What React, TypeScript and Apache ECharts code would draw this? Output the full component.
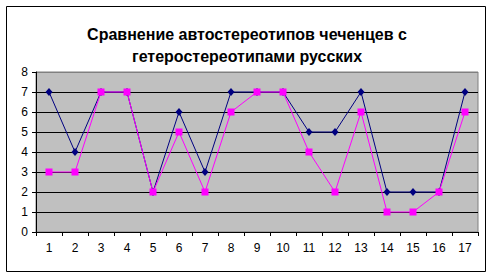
import React, { useEffect, useRef } from "react";
import * as echarts from "echarts";

const categories = ["1","2","3","4","5","6","7","8","9","10","11","12","13","14","15","16","17"];
const autoStereotypes = [7, 4, 7, 7, 2, 6, 3, 7, 7, 7, 5, 5, 7, 2, 2, 2, 7];
const heteroStereotypes = [3, 3, 7, 7, 2, 5, 2, 6, 7, 7, 4, 2, 6, 1, 1, 2, 6];
const titleText = "Сравнение автостереотипов чеченцев с\nгетеростереотипами русских";

const FONT = "'Liberation Sans', Arial, sans-serif";

export default function App() {
  const ref = useRef<HTMLDivElement>(null);
  useEffect(() => {
    if (!ref.current) return;
    const chart = echarts.init(ref.current, undefined, { renderer: "svg" });
    chart.setOption({
      animation: false,
      backgroundColor: "#ffffff",
      title: {
        text: titleText,
        left: 242,
        textAlign: "center",
        top: 18,
        textStyle: { fontFamily: FONT, fontSize: 16, fontWeight: "bold", color: "#000", lineHeight: 22 },
      },
      graphic: [
        {
          type: "rect",
          shape: { x: 6.5, y: 6.5, width: 479, height: 265 },
          style: { fill: "none", stroke: "#000", lineWidth: 1 },
          silent: true,
        },
      ],
      grid: {
        left: 36,
        right: 16,
        top: 72,
        bottom: 46,
        show: true,
        backgroundColor: "#C0C0C0",
        borderColor: "#808080",
        borderWidth: 1,
      },
      xAxis: {
        type: "category",
        data: categories,
        boundaryGap: true,
        axisLine: { show: true, lineStyle: { color: "#000", width: 1 } },
        axisTick: { show: true, length: 4, inside: false, lineStyle: { color: "#000" } },
        axisLabel: { fontFamily: FONT, fontSize: 12, color: "#000", margin: 10 },
        splitLine: { show: false },
      },
      yAxis: {
        type: "value",
        min: 0,
        max: 8,
        interval: 1,
        axisLine: { show: true, lineStyle: { color: "#000", width: 1 } },
        axisTick: { show: true, length: 4, inside: false, lineStyle: { color: "#000" } },
        axisLabel: { fontFamily: FONT, fontSize: 12, color: "#000", margin: 8 },
        splitLine: {
          show: true,
          lineStyle: {
            color: ["#000", "#000", "#000", "#000", "#000", "#000", "#000", "#000", "#808080"],
            width: 1,
          },
        },
      },
      series: [
        {
          name: "Автостереотипы",
          type: "line",
          data: autoStereotypes,
          symbol: "diamond",
          symbolSize: [7, 8],
          itemStyle: { color: "#000080" },
          lineStyle: { color: "#000080", width: 1 },
        },
        {
          name: "Гетеростереотипы",
          type: "line",
          data: heteroStereotypes,
          symbol: "rect",
          symbolSize: 7,
          itemStyle: { color: "#FF00FF" },
          lineStyle: { color: "#FF00FF", width: 1 },
        },
      ],
    });
    return () => chart.dispose();
  }, []);
  return <div ref={ref} style={{ position: "fixed", left: 0, top: 0, width: 494, height: 278 }} />;
}
